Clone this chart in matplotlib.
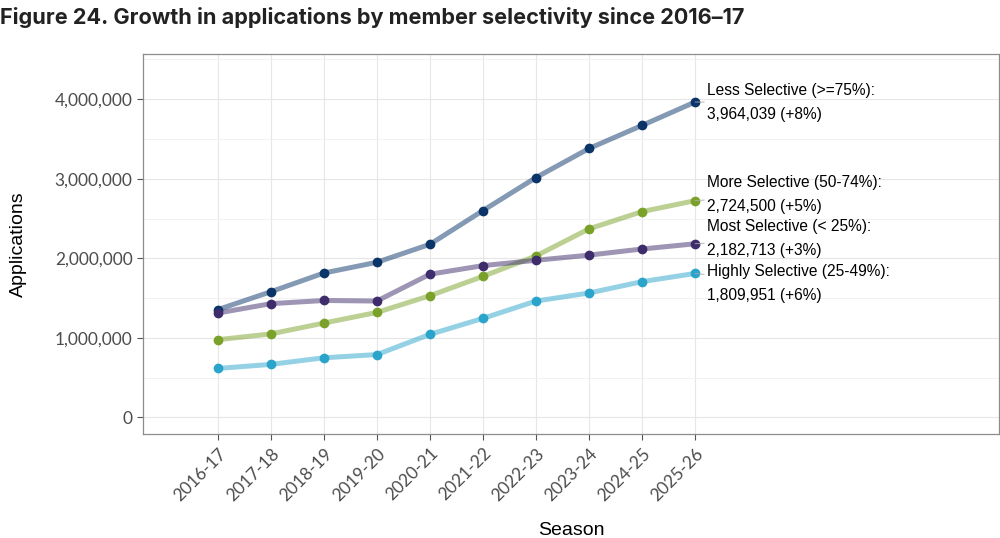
import matplotlib
matplotlib.use("Agg")
import matplotlib.pyplot as plt
from matplotlib.ticker import FuncFormatter, MultipleLocator

seasons = ["2016-17", "2017-18", "2018-19", "2019-20", "2020-21",
           "2021-22", "2022-23", "2023-24", "2024-25", "2025-26"]

less_sel = [1355000, 1580000, 1815000, 1950000, 2176000,
            2600000, 3015000, 3380000, 3670000, 3964039]
more_sel = [977000, 1050000, 1186000, 1320000, 1530000,
            1773000, 2030000, 2370000, 2587000, 2724500]
most_sel = [1312000, 1430000, 1470000, 1463000, 1800000,
            1908000, 1975000, 2040000, 2117000, 2182713]
high_sel = [616000, 667000, 750000, 790000, 1044000,
            1245000, 1463000, 1564000, 1707000, 1809951]

names = ["Less Selective (>=75%)", "More Selective (50-74%)",
         "Most Selective (< 25%)", "Highly Selective (25-49%)"]
growth = ["+8%", "+5%", "+3%", "+6%"]
series = [less_sel, more_sel, most_sel, high_sel]
colors = ["#0b3469", "#7aa22a", "#3e2c6c", "#2ba4cc"]
label_dy = [0, 4.7, 4.0, -7.6]   # label nudges in points

fig = plt.figure(figsize=(10, 5.38), dpi=100)
ax = fig.add_axes([0.143, 0.193, 0.856, 0.707])

x = range(len(seasons))
for vals, c in zip(series, colors):
    ax.plot(x, vals, color=c, lw=3.6, alpha=0.5, solid_capstyle="round", zorder=2)
    ax.plot(x, vals, "o", color=c, ms=6, zorder=3)

for vals, nm, g, c, dy in zip(series, names, growth, colors, label_dy):
    ax.annotate(f"{nm}:\n{vals[-1]:,} ({g})", xy=(len(seasons) - 1, vals[-1]),
                xytext=(8.6, dy), textcoords="offset points",
                ha="left", va="center", fontsize=11.2, family="Liberation Sans",
                linespacing=1.75, color="black",
                arrowprops=dict(arrowstyle="-", color="#aaaaaa", lw=0.6,
                                shrinkA=0, shrinkB=0))

ax.set_xlim(-1.41, 14.73)
ax.set_ylim(-210000, 4570000)
ax.set_xticks(list(x))
ax.set_xticklabels(seasons, rotation=45, ha="right", rotation_mode="anchor",
                   fontsize=12.5, color="#4d4d4d", family="Lato")
ax.yaxis.set_major_locator(MultipleLocator(1000000))
ax.yaxis.set_minor_locator(MultipleLocator(500000))
ax.yaxis.set_major_formatter(FuncFormatter(lambda v, p: f"{int(v):,}"))
for t in ax.get_yticklabels():
    t.set_family("Lato")
ax.tick_params(axis="y", labelsize=12.5, labelcolor="#4d4d4d", color="#555555",
               length=4, width=0.8)
ax.tick_params(axis="y", which="minor", length=0)
ax.tick_params(axis="x", color="#555555", length=4, width=0.8, pad=4)

ax.grid(True, which="major", color="#e6e6e6", lw=0.8, zorder=0)
ax.grid(True, which="minor", axis="y", color="#f0f0f0", lw=0.6, zorder=0)
ax.set_axisbelow(True)
for s in ax.spines.values():
    s.set_color("#8c8c8c")
    s.set_linewidth(0.9)

ax.set_ylabel("Applications", fontsize=14, family="Liberation Sans", va="center")
ax.yaxis.set_label_coords(-0.146, 0.5)
ax.set_xlabel("Season", fontsize=14, family="Liberation Sans", va="center")
ax.xaxis.set_label_coords(0.5, -0.253)

fig.text(0.0, 0.968, "Figure 24. Growth in applications by member selectivity since 2016\u201317",
         fontsize=15.6, fontweight="bold", family="Inter", color="#222222",
         ha="left", va="center")

fig.savefig("out.png", dpi=100)
